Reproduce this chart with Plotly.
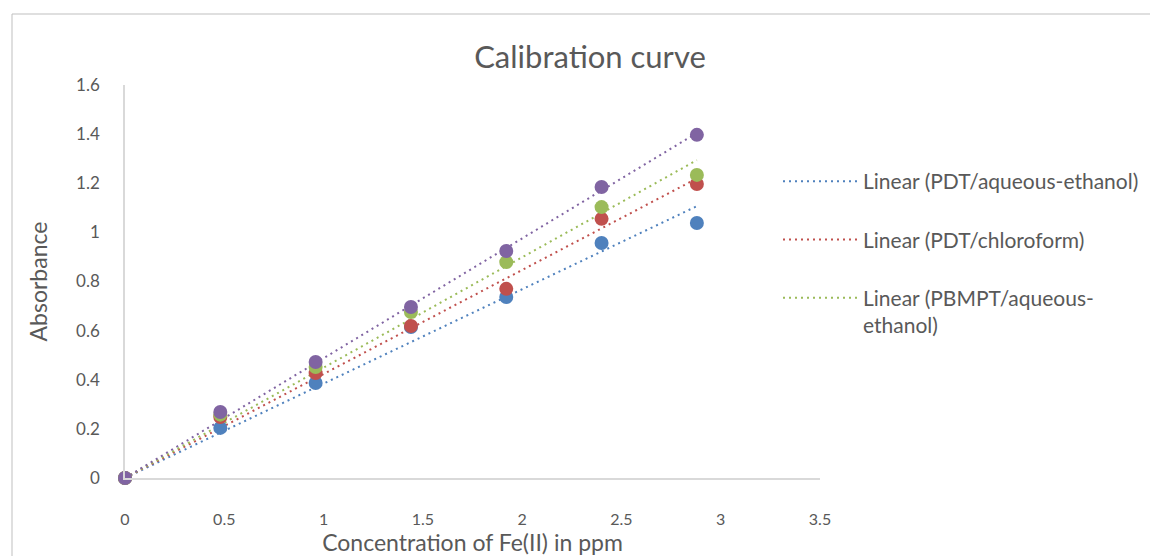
import numpy as np
import plotly.graph_objects as go

# Data
conc = [0, 0.48, 0.96, 1.44, 1.92, 2.4, 2.88]
pdt_aq_eth = [0, 0.204, 0.387, 0.615, 0.737, 0.957, 1.038]
pdt_chcl3 = [0, 0.248, 0.427, 0.619, 0.770, 1.055, 1.197]
pbmpt_aq_eth = [0, 0.258, 0.452, 0.676, 0.879, 1.103, 1.234]
pbmpt_chcl3 = [0, 0.269, 0.472, 0.696, 0.924, 1.185, 1.397]

series_names = ["PDT/aqueous-ethanol", "PDT/chloroform",
                "PBMPT/aqueous-ethanol", "PBMPT/chloroform"]
legend_labels = ["Linear (PDT/aqueous-ethanol)", "Linear (PDT/chloroform)",
                 "Linear (PBMPT/aqueous-<br>ethanol)", "Linear (PBMPT/chloroform)"]
colors = ["#4F81BD", "#C0504D", "#9BBB59", "#8064A2"]
x_ticks = [0, 0.5, 1, 1.5, 2, 2.5, 3, 3.5]
y_ticks = [0, 0.2, 0.4, 0.6, 0.8, 1.0, 1.2, 1.4, 1.6]
y_tick_text = ["0", "0.2", "0.4", "0.6", "0.8", "1", "1.2", "1.4", "1.6"]

FONT = "Lato"
GREY = "#595959"

fig = go.Figure()
all_y = [pdt_aq_eth, pdt_chcl3, pbmpt_aq_eth, pbmpt_chcl3]
xa = np.array(conc)

# Linear trendlines (least squares through the origin)
for i, ys in enumerate(all_y):
    ya = np.array(ys)
    slope = float(np.dot(xa, ya) / np.dot(xa, xa))
    fig.add_trace(go.Scatter(
        x=[0, conc[-1]], y=[0, slope * conc[-1]], mode="lines",
        name=legend_labels[i], legendgroup=f"g{i}",
        line=dict(color=colors[i], width=2, dash="2px,4px"),
        showlegend=(i < 3), hoverinfo="skip"))

for i, ys in enumerate(all_y):
    fig.add_trace(go.Scatter(
        x=conc, y=ys, mode="markers", name=series_names[i],
        marker=dict(color=colors[i], size=14), cliponaxis=False,
        showlegend=False))

# page body has an 8px margin; positions below are in reference pixels
OFF = 8
W, H = 1158 - OFF, 556 - OFF
L, T = 125 - OFF, 85 - OFF
pw, ph = 695, 393
R, B = W - L - pw, H - T - ph

def px_x(p):
    return (p - OFF - L) / pw

def px_y(p):
    return (T + ph - (p - OFF)) / ph

fig.add_shape(type="rect", xref="paper", yref="paper",
              x0=px_x(12), x1=px_x(1170), y0=px_y(14), y1=px_y(570),
              line=dict(color="#BFBFBF", width=1), fillcolor="rgba(0,0,0,0)",
              layer="below")

fig.update_layout(
    width=W, height=H,
    margin=dict(l=L, r=R, t=T, b=B, autoexpand=False),
    paper_bgcolor="white", plot_bgcolor="white",
    font=dict(family=FONT, color=GREY),
    title=dict(text="Calibration curve", font=dict(family=FONT, size=31, color=GREY),
               x=px_x(590), xref="paper", xanchor="center",
               y=1 - (57 - OFF) / H, yref="container", yanchor="middle"),
    xaxis=dict(range=[0, 3.5], tickvals=x_ticks,
               ticktext=[f"{v:g}" for v in x_ticks],
               showgrid=False, zeroline=False, showline=True, automargin=False,
               linecolor="#D9D9D9", linewidth=1.5, ticks="",
               tickfont=dict(size=16, color=GREY), ticklabelstandoff=26,
               title=dict(text="Concentration of Fe(II) in ppm",
                          font=dict(size=23, color=GREY), standoff=5)),
    yaxis=dict(range=[0, 1.6], tickvals=y_ticks, ticktext=y_tick_text,
               showgrid=False, zeroline=False, showline=True, automargin=False,
               linecolor="#D9D9D9", linewidth=1.5, ticks="",
               tickfont=dict(size=17, color=GREY), ticklabelstandoff=20,
               title=dict(text="Absorbance", font=dict(size=23, color=GREY),
                          standoff=22)),
    legend=dict(x=px_x(778), y=px_y(161), xanchor="left", yanchor="top",
                font=dict(size=21, color=GREY), itemwidth=75, valign="top",
                tracegroupgap=28, traceorder="grouped",
                bgcolor="rgba(0,0,0,0)"),
    showlegend=True,
)

fig.write_html("out.html")
